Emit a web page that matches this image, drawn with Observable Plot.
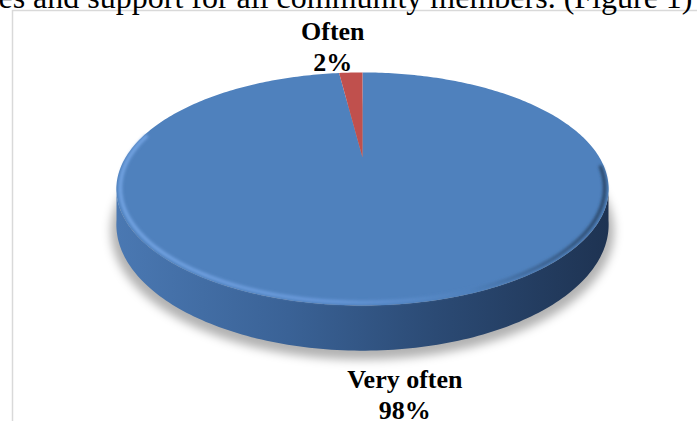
<!DOCTYPE html>
<html>
<head>
<meta charset="utf-8">
<script src="https://cdn.jsdelivr.net/npm/d3@7"></script>
<script src="https://cdn.jsdelivr.net/npm/@observablehq/plot@0.6"></script>
<style>
  html, body { margin: 0; padding: 0; background: #fff; overflow: hidden; }
</style>
</head>
<body>
<div id="chart"></div>
<script>
// Survey answers and their shares (%)
const categories = ["Very often", "Often"];
const shares = [98, 2];
const sliceColors = ["#4f81bd", "#c0504d"];
const heading = "services and support for all community members. (Figure 1)";

const W = 697, H = 421;
const serif = "'Liberation Serif', 'Times New Roman', serif";

// Disc seen in perspective: centre, half-axes, foreshortening and thickness
const cx = 362, cy = 157, ax = 237, by = 108, k = 0.27, depth = 33;
function project(theta, r = 1, drop = 0) {
  const u = r * Math.sin(theta), v = -r * Math.cos(theta);
  const d = 1 - k * v;
  return {x: cx + ax * u / d, y: cy + by * v / d + drop * depth / (1 + k * Math.cos(theta))};
}
const deg = Math.PI / 180;
function arcPoints(t0, t1, r, drop, extra) {
  const n = Math.max(4, Math.ceil(Math.abs(t1 - t0) / deg));
  const pts = [];
  for (let j = 0; j <= n; ++j) pts.push({...project(t0 + (t1 - t0) * j / n, r, drop), ...extra});
  return pts;
}

const arcs = d3.pie().sort(null)(shares);

// top face, one closed wedge per answer
const topFace = arcs.flatMap((a, i) => [
  {...project(0, 0), category: categories[i]},
  ...arcPoints(a.startAngle, a.endAngle, 1, 0, {category: categories[i]})
]);

// visible rim between the two silhouette points (front half)
const tR = Math.acos(-k), tL = 2 * Math.PI - tR;
const sideBand = [
  ...arcPoints(tR - 2 * deg, tL + 2 * deg, 1, 0, {}),
  ...arcPoints(tL + 2 * deg, tR - 2 * deg, 1, 1, {})
];

// soft shadow cast by the underside
const shadow = arcPoints(0, 2 * Math.PI, 1.02, 1, {});

// bevel highlight running along the front edge of the top face
const bevel = arcPoints(95 * deg, 282 * deg, 0.985, 0, {});

// label anchors taken from each wedge's outer edge
const labels = arcs.map((a, i) => {
  const mid = (a.startAngle + a.endAngle) / 2;
  const front = Math.cos(mid) < 0;
  return {...project(mid, 1, front ? 1 : 0), text: `${categories[i]}\n${shares[i]}%`, front};
});

const defs = () => {
  const g = d3.create("svg:defs");
  const side = g.append("linearGradient").attr("id", "sideGrad");
  [["0%", "#4a78b2"], ["35%", "#3a6296"], ["65%", "#2b4a74"], ["100%", "#1e3352"]]
    .forEach(([o, c]) => side.append("stop").attr("offset", o).attr("stop-color", c));
  const rim = g.append("linearGradient").attr("id", "rimGrad");
  [["0%", "#74a5e4"], ["45%", "#6898da"], ["72%", "#4f81bd"], ["100%", "#2a4668"]]
    .forEach(([o, c]) => rim.append("stop").attr("offset", o).attr("stop-color", c));
  g.append("filter").attr("id", "blurShadow").attr("x", "-20%").attr("y", "-20%")
    .attr("width", "140%").attr("height", "140%")
    .append("feGaussianBlur").attr("stdDeviation", 5);
  g.append("filter").attr("id", "blurRim").attr("x", "-10%").attr("y", "-10%")
    .attr("width", "120%").attr("height", "120%")
    .append("feGaussianBlur").attr("stdDeviation", 1.6);
  return g.node();
};

const chart = Plot.plot({
  width: W,
  height: H,
  margin: 0,
  x: {domain: [0, W], range: [0, W], axis: null},
  y: {domain: [0, H], range: [0, H], axis: null},
  color: {domain: categories, range: sliceColors},
  style: {background: "#fff"},
  marks: [
    defs,
    Plot.frame({stroke: "#d9d9d9", strokeWidth: 1.5, insetLeft: 12, insetTop: 10, insetRight: -5, insetBottom: -5}),
    Plot.text([heading], {
      frameAnchor: "top-right", textAnchor: "end", lineAnchor: "bottom",
      dx: -5, dy: 7, fontSize: 32, fontFamily: serif, fill: "#000"
    }),
    Plot.line(shadow, {x: "x", y: "y", dy: 5, fill: "#000", fillOpacity: 0.3, stroke: "none"}),
    Plot.line(sideBand, {x: "x", y: "y", fill: "url(#sideGrad)", stroke: "none"}),
    Plot.line(topFace, {x: "x", y: "y", z: "category", fill: "category", stroke: "none"}),
    Plot.line(bevel, {x: "x", y: "y", stroke: "url(#rimGrad)", strokeWidth: 3.5, fill: "none"}),
    Plot.text(labels.filter(d => !d.front), {
      x: "x", y: "y", text: "text", lineAnchor: "bottom", lineHeight: 1.19,
      dx: -18, dy: -2, fontSize: 26, fontWeight: "bold", fontFamily: serif, fill: "#000"
    }),
    Plot.text(labels.filter(d => d.front), {
      x: "x", y: "y", text: "text", lineAnchor: "top", lineHeight: 1.19,
      dx: 22, dy: 16, fontSize: 26, fontWeight: "bold", fontFamily: serif, fill: "#000"
    })
  ]
});

const lineGroups = chart.querySelectorAll('g[aria-label="line"]');
lineGroups[0].setAttribute("filter", "url(#blurShadow)");
lineGroups[3].setAttribute("filter", "url(#blurRim)");
document.getElementById("chart").appendChild(chart);
</script>
</body>
</html>
